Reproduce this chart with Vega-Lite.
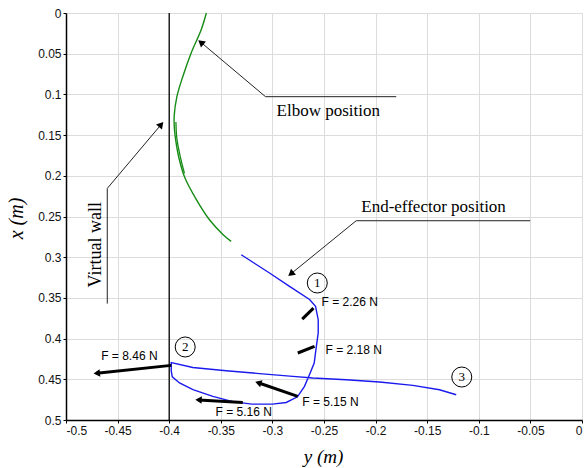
{
  "$schema": "https://vega.github.io/schema/vega-lite/v6.json",
  "width": 516,
  "height": 407,
  "autosize": "none",
  "padding": {"left": 66, "top": 13, "right": 3, "bottom": 48},
  "background": "white",
  "config": {
    "view": {"stroke": null},
    "axis": {
      "domainColor": "#000000",
      "domainWidth": 1.5,
      "tickColor": "#000000",
      "tickSize": 3,
      "gridColor": "#dcdcdc",
      "gridWidth": 1,
      "labelFont": "Liberation Sans",
      "labelFontSize": 12,
      "labelColor": "#111111",
      "labelPadding": 2,
      "titleFont": "Liberation Serif",
      "titleFontStyle": "italic",
      "titleFontWeight": "normal",
      "titleFontSize": 20,
      "titleColor": "#000000"
    }
  },
  "datasets": {
    "elbow": [
      {"y": -0.364, "x": 0, "o": 1},
      {"y": -0.369, "x": 0.0205, "o": 2},
      {"y": -0.3787, "x": 0.049, "o": 3},
      {"y": -0.3868, "x": 0.078, "o": 4},
      {"y": -0.3925, "x": 0.1025, "o": 5},
      {"y": -0.3952, "x": 0.127, "o": 6},
      {"y": -0.3949, "x": 0.143, "o": 7},
      {"y": -0.3935, "x": 0.158, "o": 8},
      {"y": -0.3902, "x": 0.18, "o": 9},
      {"y": -0.3848, "x": 0.2025, "o": 10},
      {"y": -0.3738, "x": 0.229, "o": 11},
      {"y": -0.361, "x": 0.254, "o": 12},
      {"y": -0.348, "x": 0.272, "o": 13},
      {"y": -0.34, "x": 0.2806, "o": 14}
    ],
    "elbow2": [
      {"y": -0.3935, "x": 0.134, "o": 1},
      {"y": -0.3925, "x": 0.155, "o": 2},
      {"y": -0.389, "x": 0.178, "o": 3},
      {"y": -0.3852, "x": 0.197, "o": 4}
    ],
    "effector": [
      {"y": -0.3302, "x": 0.297, "o": 1},
      {"y": -0.3028, "x": 0.3194, "o": 2},
      {"y": -0.2834, "x": 0.3359, "o": 3},
      {"y": -0.264, "x": 0.352, "o": 4},
      {"y": -0.2582, "x": 0.3604, "o": 5},
      {"y": -0.2556, "x": 0.3768, "o": 6},
      {"y": -0.2556, "x": 0.393, "o": 7},
      {"y": -0.2576, "x": 0.4115, "o": 8},
      {"y": -0.2595, "x": 0.43, "o": 9},
      {"y": -0.2634, "x": 0.4423, "o": 10},
      {"y": -0.2689, "x": 0.4587, "o": 11},
      {"y": -0.2757, "x": 0.4715, "o": 12},
      {"y": -0.2866, "x": 0.4785, "o": 13},
      {"y": -0.3, "x": 0.4805, "o": 14},
      {"y": -0.32, "x": 0.4805, "o": 15},
      {"y": -0.3384, "x": 0.4775, "o": 16},
      {"y": -0.3577, "x": 0.471, "o": 17},
      {"y": -0.377, "x": 0.4628, "o": 18},
      {"y": -0.39, "x": 0.4545, "o": 19},
      {"y": -0.397, "x": 0.447, "o": 20},
      {"y": -0.398, "x": 0.44, "o": 21},
      {"y": -0.398, "x": 0.4295, "o": 22},
      {"y": -0.3771, "x": 0.4355, "o": 23},
      {"y": -0.3448, "x": 0.4395, "o": 24},
      {"y": -0.3125, "x": 0.443, "o": 25},
      {"y": -0.2802, "x": 0.4464, "o": 26},
      {"y": -0.2609, "x": 0.4484, "o": 27},
      {"y": -0.2285, "x": 0.4505, "o": 28},
      {"y": -0.1962, "x": 0.4533, "o": 29},
      {"y": -0.1639, "x": 0.4575, "o": 30},
      {"y": -0.1381, "x": 0.4628, "o": 31},
      {"y": -0.1219, "x": 0.469, "o": 32}
    ],
    "forces": [
      {"name": "f1", "y": -0.2602, "x": 0.3625, "y2": -0.2711, "x2": 0.376},
      {"name": "f2", "y": -0.2592, "x": 0.4096, "y2": -0.2754, "x2": 0.4177},
      {"name": "f3", "y": -0.2754, "x": 0.471, "y2": -0.3137, "x2": 0.4542},
      {"name": "f4", "y": -0.3287, "x": 0.4784, "y2": -0.3716, "x2": 0.4753},
      {"name": "f5", "y": -0.398, "x": 0.4329, "y2": -0.4702, "x2": 0.4426}
    ],
    "heads": [
      {"name": "f3", "y": -0.3137, "x": 0.4542},
      {"name": "f4", "y": -0.3716, "x": 0.4753},
      {"name": "f5", "y": -0.4702, "x": 0.4426},
      {"name": "elbow", "y": -0.3693, "x": 0.036},
      {"name": "wall", "y": -0.4078, "x": 0.137},
      {"name": "effector", "y": -0.2821, "x": 0.3205}
    ],
    "leaders": [
      {"name": "elbow", "y": -0.18, "x": 0.1028, "o": 1},
      {"name": "elbow", "y": -0.3067, "x": 0.1028, "o": 2},
      {"name": "elbow", "y": -0.3693, "x": 0.036, "o": 3},
      {"name": "wall", "y": -0.46, "x": 0.357, "o": 1},
      {"name": "wall", "y": -0.46, "x": 0.2155, "o": 2},
      {"name": "wall", "y": -0.4078, "x": 0.137, "o": 3},
      {"name": "effector", "y": -0.0502, "x": 0.2552, "o": 1},
      {"name": "effector", "y": -0.2188, "x": 0.2552, "o": 2},
      {"name": "effector", "y": -0.2821, "x": 0.3205, "o": 3}
    ],
    "flabels": [
      {"y": -0.2524, "x": 0.355, "t": "F = 2.26 N"},
      {"y": -0.2485, "x": 0.4136, "t": "F = 2.18 N"},
      {"y": -0.2711, "x": 0.4779, "t": "F = 5.15 N"},
      {"y": -0.3551, "x": 0.4907, "t": "F = 5.16 N"},
      {"y": -0.4659, "x": 0.421, "t": "F = 8.46 N"}
    ],
    "notes": [
      {"y": -0.296, "x": 0.1209, "t": "Elbow position"},
      {"y": -0.2139, "x": 0.2383, "t": "End-effector position"}
    ],
    "circles": [
      {"y": -0.2565, "x": 0.3317, "t": "1"},
      {"y": -0.3845, "x": 0.4103, "t": "2"},
      {"y": -0.1165, "x": 0.4472, "t": "3"}
    ]
  },
  "encoding": {
    "x": {
      "field": "y", "type": "quantitative",
      "scale": {"domain": [-0.5, 0], "nice": false, "zero": false},
      "axis": {
        "title": "y (m)",
        "values": [-0.5, -0.45, -0.4, -0.35, -0.3, -0.25, -0.2, -0.15, -0.1, -0.05, 0],
        "labelExpr": "'' + datum.value",
        "titleX": 257, "titleY": 36, "titleBaseline": "middle", "titleFontSize": 19
      }
    },
    "y": {
      "field": "x", "type": "quantitative",
      "scale": {"domain": [0, 0.5], "reverse": true, "nice": false, "zero": false},
      "axis": {
        "title": "x (m)",
        "values": [0, 0.05, 0.1, 0.15, 0.2, 0.25, 0.3, 0.35, 0.4, 0.45, 0.5],
        "labelExpr": "'' + datum.value",
        "titleX": -50, "titleY": 205, "titleAngle": -90, "titleBaseline": "middle", "titleAlign": "center"
      }
    }
  },
  "layer": [
    {
      "data": {"values": [{"w": -0.4}]},
      "mark": {"type": "rule", "color": "#000000", "strokeWidth": 1.3},
      "encoding": {"x": {"field": "w", "type": "quantitative"}, "y": null}
    },
    {
      "data": {"name": "elbow"},
      "mark": {"type": "line", "color": "#168c16", "strokeWidth": 1.4, "interpolate": "catmull-rom"},
      "encoding": {"order": {"field": "o"}}
    },
    {
      "data": {"name": "elbow2"},
      "mark": {"type": "line", "color": "#168c16", "strokeWidth": 1.3, "interpolate": "catmull-rom"},
      "encoding": {"order": {"field": "o"}}
    },
    {
      "data": {"name": "effector"},
      "mark": {"type": "line", "color": "#1a1aee", "strokeWidth": 1.4, "interpolate": "linear"},
      "encoding": {"order": {"field": "o"}}
    },
    {
      "data": {"name": "forces"},
      "mark": {"type": "rule", "color": "#000000", "strokeWidth": 3},
      "encoding": {
        "x2": {"field": "y2"},
        "y2": {"field": "x2"}
      }
    },
    {
      "data": {"name": "leaders"},
      "mark": {"type": "line", "color": "#222222", "strokeWidth": 1},
      "encoding": {"detail": {"field": "name"}, "order": {"field": "o"}}
    },
    {
      "data": {"name": "heads"},
      "transform": [{"filter": "datum.name === 'f3'"}],
      "mark": {"type": "point", "shape": "triangle-left", "filled": true, "color": "#000000", "size": 55, "angle": 19, "opacity": 1}
    },
    {
      "data": {"name": "heads"},
      "transform": [{"filter": "datum.name === 'f4'"}],
      "mark": {"type": "point", "shape": "triangle-left", "filled": true, "color": "#000000", "size": 55, "angle": 3, "opacity": 1}
    },
    {
      "data": {"name": "heads"},
      "transform": [{"filter": "datum.name === 'f5'"}],
      "mark": {"type": "point", "shape": "triangle-left", "filled": true, "color": "#000000", "size": 55, "angle": 354, "opacity": 1}
    },
    {
      "data": {"name": "heads"},
      "transform": [{"filter": "datum.name === 'elbow'"}],
      "mark": {"type": "point", "shape": "triangle-left", "filled": true, "color": "#000000", "size": 60, "angle": 40, "opacity": 1}
    },
    {
      "data": {"name": "heads"},
      "transform": [{"filter": "datum.name === 'wall'"}],
      "mark": {"type": "point", "shape": "triangle-right", "filled": true, "color": "#000000", "size": 60, "angle": 310, "opacity": 1}
    },
    {
      "data": {"name": "heads"},
      "transform": [{"filter": "datum.name === 'effector'"}],
      "mark": {"type": "point", "shape": "triangle-left", "filled": true, "color": "#000000", "size": 60, "angle": 321, "opacity": 1}
    },
    {
      "data": {"name": "flabels"},
      "mark": {"type": "text", "font": "Liberation Sans", "fontSize": 12, "align": "left", "baseline": "middle", "color": "#000000"},
      "encoding": {"text": {"field": "t"}}
    },
    {
      "data": {"name": "notes"},
      "mark": {"type": "text", "font": "Liberation Serif", "fontSize": 17, "align": "left", "baseline": "middle", "color": "#000000"},
      "encoding": {"text": {"field": "t"}}
    },
    {
      "data": {"values": [{"y": -0.4708, "x": 0.2847, "t": "Virtual wall"}]},
      "mark": {"type": "text", "font": "Liberation Serif", "fontSize": 18, "align": "center", "baseline": "middle", "angle": 270, "color": "#000000"},
      "encoding": {"text": {"field": "t"}}
    },
    {
      "data": {"name": "circles"},
      "mark": {"type": "point", "shape": "circle", "filled": false, "color": "#000000", "size": 400, "strokeWidth": 1, "opacity": 1}
    },
    {
      "data": {"name": "circles"},
      "mark": {"type": "text", "font": "Liberation Serif", "fontSize": 13, "align": "center", "baseline": "middle", "color": "#000000"},
      "encoding": {"text": {"field": "t"}}
    }
  ]
}
